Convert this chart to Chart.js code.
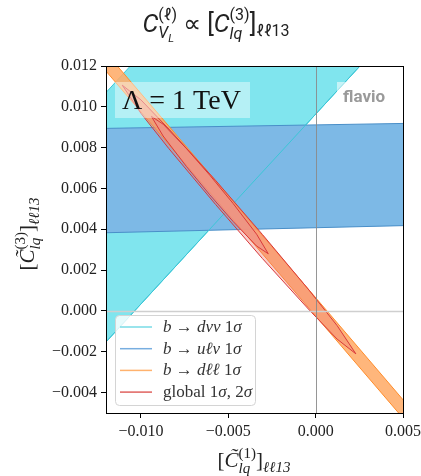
<!DOCTYPE html>
<html>
<head>
<meta charset="utf-8">
<script src="https://cdn.jsdelivr.net/npm/chart.js@4.4.1/dist/chart.umd.min.js"></script>
<style>
  body { margin: 0; background: #fff; }
  canvas { display: block; }
</style>
</head>
<body>
<canvas id="chartFlavio" width="421" height="476"></canvas>
<script>
// tick positions
const xTicks = [-0.010, -0.005, 0.000, 0.005];
const yTicks = [-0.004, -0.002, 0.000, 0.002, 0.004, 0.006, 0.008, 0.010, 0.012];

// contour outlines, [x, y]
const cyanBand = [[-0.013, 0.00977], [-0.0085, 0.01396], [0.004, 0.01336], [-0.013, -0.00245]];
const cyanEdge = [[-0.013, -0.00245], [0.004, 0.01336]];
const blueBand = [[-0.013, 0.00893], [0.006, 0.0092], [0.006, 0.0042], [-0.013, 0.00381]];
const orangeBand = [[-0.013, 0.01365], [0.006, -0.00535], [0.006, -0.00625], [-0.013, 0.01275]];
const global2sigma = [
    [-0.01107, 0.01106],
    [-0.0100, 0.01034], [-0.0084, 0.00891], [-0.00572, 0.00639], [-0.00305, 0.00375], [-0.00037, 0.00101], [0.00123, -0.00072],
    [0.0023, -0.0021],
    [0.00123, -0.00138], [-0.00037, 0.00005], [-0.00305, 0.00257], [-0.00572, 0.00521], [-0.0084, 0.00795], [-0.0100, 0.00968]
];
const global1sigma = [
    [-0.0094, 0.00953],
    [-0.00873, 0.00915], [-0.00739, 0.00795], [-0.00606, 0.00665], [-0.00472, 0.00526], [-0.00338, 0.00376],
    [-0.00271, 0.0028],
    [-0.00338, 0.00318], [-0.00472, 0.00438], [-0.00606, 0.00569], [-0.00739, 0.00707], [-0.00873, 0.00857]
];

const SERIF = '"Liberation Serif", "DejaVu Serif", serif';
const SANS = 'Roboto, "DejaVu Sans", sans-serif';

const toPts = (arr, close) => {
    const pts = arr.map(([x, y]) => ({ x, y }));
    if (close) pts.push({ ...pts[0] });
    return pts;
};

const shape = (label, pts, fill, border, order) => ({
    label,
    data: pts,
    showLine: true,
    fill: fill ? 'shape' : false,
    backgroundColor: fill || 'transparent',
    borderColor: border,
    borderWidth: 1,
    pointRadius: 0,
    tension: 0,
    clip: 0,
    order
});

// --- small helper for text with sub/superscripts
function fontOf(g, family) {
    return (g.i ? 'italic ' : '') + g.s + 'px ' + family;
}
function run(ctx, segs, x, y, family, draw) {
    let w = 0;
    for (const g of segs) {
        ctx.font = fontOf(g, family);
        if (draw) ctx.fillText(g.t, x + w, y + (g.dy || 0));
        w += ctx.measureText(g.t).width;
    }
    return w;
}
function mathText(ctx, items, x, y, family, draw) {
    let cx = x;
    for (const it of items) {
        if (it.sup || it.sub) {
            const a = it.sup ? run(ctx, it.sup, cx, y, family, draw) : 0;
            const b = it.sub ? run(ctx, it.sub, cx, y, family, draw) : 0;
            cx += Math.max(a, b);
        } else {
            cx += run(ctx, [it], cx, y, family, draw);
        }
    }
    return cx - x;
}

const titleItems = [
    { t: 'C', s: 25, i: true },
    { sup: [{ t: '(ℓ)', s: 16, dy: -12 }], sub: [{ t: 'V', s: 16, i: true, dy: 6 }, { t: 'L', s: 11, i: true, dy: 10 }] },
    { t: ' ∝ ', s: 25 },
    { t: '[', s: 25 },
    { t: 'C', s: 25, i: true },
    { sup: [{ t: '(3)', s: 16, dy: -12 }], sub: [{ t: 'lq', s: 16, i: true, dy: 7 }] },
    { t: ']', s: 25 },
    { t: 'ℓℓ13', s: 16, dy: 4 }
];
const axisItems = (n) => [
    { t: '[', s: 21 },
    { t: 'C̃', s: 21, i: true },
    { sup: [{ t: '(' + n + ')', s: 15, dy: -9 }], sub: [{ t: 'lq', s: 15, i: true, dy: 6 }] },
    { t: ']', s: 21 },
    { t: 'ℓℓ13', s: 15, i: true, dy: 5 }
];

const L = 17;
const legendRows = [
    { color: '#78dbe6', items: [{ t: 'b', s: L, i: true }, { t: ' → ', s: L }, { t: 'dνν', s: L, i: true }, { t: ' 1', s: L }, { t: 'σ', s: L, i: true }] },
    { color: '#78aee0', items: [{ t: 'b', s: L, i: true }, { t: ' → ', s: L }, { t: 'uℓν', s: L, i: true }, { t: ' 1', s: L }, { t: 'σ', s: L, i: true }] },
    { color: '#ffb26e', items: [{ t: 'b', s: L, i: true }, { t: ' → ', s: L }, { t: 'dℓℓ', s: L, i: true }, { t: ' 1', s: L }, { t: 'σ', s: L, i: true }] },
    { color: '#e0625f', items: [{ t: 'global 1', s: L }, { t: 'σ', s: L, i: true }, { t: ', 2', s: L }, { t: 'σ', s: L, i: true }] }
];

function roundRect(ctx, x, y, w, h, r) {
    ctx.beginPath();
    ctx.moveTo(x + r, y);
    ctx.arcTo(x + w, y, x + w, y + h, r);
    ctx.arcTo(x + w, y + h, x, y + h, r);
    ctx.arcTo(x, y + h, x, y, r);
    ctx.arcTo(x, y, x + w, y, r);
    ctx.closePath();
}

const overlay = {
    id: 'overlay',
    afterDatasetsDraw(chart) {
        const { ctx, chartArea: a, scales } = chart;
        ctx.save();
        // zero lines
        const x0 = Math.round(scales.x.getPixelForValue(0)) + 0.5;
        const y0 = Math.round(scales.y.getPixelForValue(0)) + 0.5;
        ctx.strokeStyle = '#cfcfcf';
        ctx.lineWidth = 1.6;
        ctx.beginPath(); ctx.moveTo(a.left, y0); ctx.lineTo(a.right, y0); ctx.stroke();
        ctx.strokeStyle = '#8a8a8a';
        ctx.lineWidth = 0.9;
        ctx.beginPath(); ctx.moveTo(x0, a.top); ctx.lineTo(x0, a.bottom); ctx.stroke();

        // Lambda box
        ctx.fillStyle = 'rgba(255,255,255,0.42)';
        ctx.fillRect(115, 82, 135, 36);
        ctx.fillStyle = '#111';
        ctx.font = '28px ' + SERIF;
        ctx.textBaseline = 'alphabetic';
        ctx.fillText('Λ = 1 TeV', 122, 109);

        // flavio mark
        ctx.fillStyle = 'rgba(255,255,255,0.55)';
        ctx.fillRect(337, 82, 9, 9);
        ctx.fillStyle = '#9a9a9a';
        ctx.font = 'bold 17px ' + SANS;
        ctx.fillText('flavio', 343, 102);

        // legend
        roundRect(ctx, 115.5, 315.5, 140, 90, 4);
        ctx.fillStyle = 'rgba(255,255,255,0.82)';
        ctx.fill();
        ctx.strokeStyle = '#d4d4d4';
        ctx.lineWidth = 1;
        ctx.stroke();
        legendRows.forEach((row, k) => {
            const cy = 327 + k * 21.7;
            ctx.strokeStyle = row.color;
            ctx.lineWidth = 1.5;
            ctx.beginPath(); ctx.moveTo(120, cy); ctx.lineTo(152, cy); ctx.stroke();
            ctx.fillStyle = '#333';
            mathText(ctx, row.items, 163, cy + 5, SERIF, true);
        });

        // frame
        ctx.strokeStyle = '#000';
        ctx.lineWidth = 1;
        ctx.strokeRect(Math.round(a.left) + 0.5, Math.round(a.top) + 0.5,
            Math.round(a.right - a.left), Math.round(a.bottom - a.top));
        ctx.restore();
    },
    afterDraw(chart) {
        const { ctx } = chart;
        ctx.save();
        ctx.fillStyle = '#222';
        ctx.textBaseline = 'alphabetic';
        // title
        let w = mathText(ctx, titleItems, 0, 0, SANS, false);
        mathText(ctx, titleItems, 216 - w / 2, 32, SANS, true);
        // x label
        const xl = axisItems(1);
        w = mathText(ctx, xl, 0, 0, SERIF, false);
        mathText(ctx, xl, 254 - w / 2, 467, SERIF, true);
        // y label
        const yl = axisItems(3);
        w = mathText(ctx, yl, 0, 0, SERIF, false);
        ctx.translate(34, 234);
        ctx.rotate(-Math.PI / 2);
        mathText(ctx, yl, -w / 2, 0, SERIF, true);
        ctx.restore();
    }
};

const fmt = v => {
    const s = Math.abs(v) < 1e-12 ? '0.000' : v.toFixed(3);
    return s.replace('-', '\u2212');
};

new Chart(document.getElementById('chartFlavio'), {
    type: 'scatter',
    data: {
        datasets: [
            shape('b → dνν 1σ', toPts(cyanBand, true), '#80e5ee', '#3cc6d6', 6),
            shape('b → uℓν 1σ', toPts(blueBand, true), '#7db9e6', '#4a8fc8', 5),
            shape('cyan edge', toPts(cyanEdge, false), null, '#3cc6d6', 4),
            shape('b → dℓℓ 1σ', toPts(orangeBand, true), 'rgba(255,172,105,0.88)', '#ff8c2a', 3),
            shape('global 2σ', toPts(global2sigma, true), 'rgba(238,120,112,0.35)', '#d8383a', 2),
            shape('global 1σ', toPts(global1sigma, true), 'rgba(238,145,140,0.6)', '#d8383a', 1)
        ]
    },
    options: {
        responsive: false,
        animation: false,
        layout: { padding: { top: 66, right: 18, left: 0, bottom: 0 } },
        plugins: {
            legend: { display: false },
            tooltip: { enabled: false }
        },
        scales: {
            x: {
                type: 'linear',
                min: -0.012,
                max: 0.005,
                afterBuildTicks: s => { s.ticks = xTicks.map(v => ({ value: v })); },
                afterFit: s => { s.height = 63; s.paddingRight = 0; s.paddingLeft = 0; },
                ticks: {
                    callback: fmt,
                    color: '#222',
                    padding: 4,
                    maxRotation: 0,
                    font: { family: SERIF, size: 16 }
                },
                grid: { drawOnChartArea: false, tickColor: '#000', tickLength: 5 },
                border: { display: true, color: '#000' }
            },
            y: {
                type: 'linear',
                min: -0.005,
                max: 0.012,
                afterBuildTicks: s => { s.ticks = yTicks.map(v => ({ value: v })); },
                afterFit: s => { s.width = 106; s.paddingTop = 0; s.paddingBottom = 0; },
                ticks: {
                    callback: fmt,
                    color: '#222',
                    padding: 4,
                    font: { family: SERIF, size: 16 }
                },
                grid: { drawOnChartArea: false, tickColor: '#000', tickLength: 5 },
                border: { display: true, color: '#000' }
            }
        }
    },
    plugins: [overlay]
});
</script>
</body>
</html>
